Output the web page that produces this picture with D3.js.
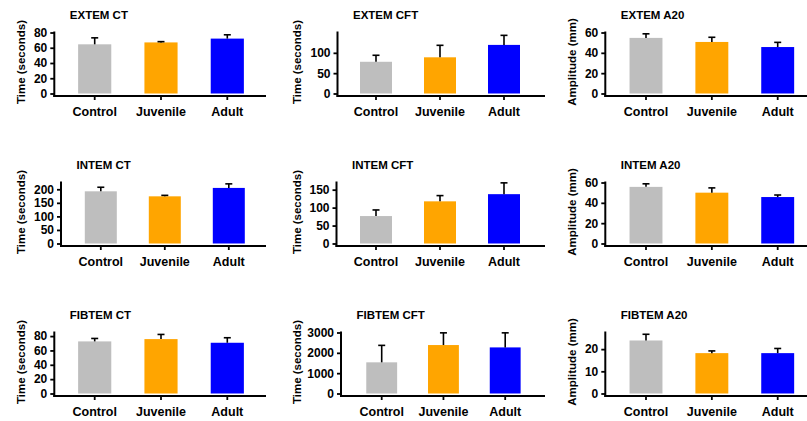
<!DOCTYPE html>
<html>
<head>
<meta charset="utf-8">
<script src="https://cdn.jsdelivr.net/npm/d3@7"></script>
<style>
  html, body { margin: 0; padding: 0; background: #fff; }
  svg { display: block; }
  text { font-family: "Liberation Sans", Arial, sans-serif; font-weight: bold; fill: #000; }
</style>
</head>
<body>
<svg id="chart" width="807" height="421"></svg>
<script>
// Groups compared in every panel
const groups = ["Control", "Juvenile", "Adult"];
const groupColors = ["#bebebe", "#ffa500", "#0000ff"];

// Panels, row by row: EXTEM, INTEM, FIBTEM x CT, CFT, A20
const panelTitles = [
  "EXTEM CT", "EXTEM CFT", "EXTEM A20",
  "INTEM CT", "INTEM CFT", "INTEM A20",
  "FIBTEM CT", "FIBTEM CFT", "FIBTEM A20"
];
const axisTitles = [
  "Time (seconds)", "Time (seconds)", "Amplitude (mm)",
  "Time (seconds)", "Time (seconds)", "Amplitude (mm)",
  "Time (seconds)", "Time (seconds)", "Amplitude (mm)"
];

// Group means (Control, Juvenile, Adult)
const meanValues = [
  [64.5, 67, 72],   [78, 89, 119.5],     [54.7, 50.7, 45.7],
  [192.5, 174, 205], [76.5, 117.5, 137.5], [55.7, 50, 45.7],
  [72.6, 75.8, 70.7], [1533, 2383, 2267],  [23.9, 18.2, 18.2]
];
// Upper error (SD)
const sdValues = [
  [8.5, 1, 5],     [16, 29.5, 23.5],   [4, 4.6, 4.6],
  [15, 3.6, 15],   [17, 16, 31.5],     [3, 4.7, 2],
  [4.1, 6.5, 7],   [834, 600, 716],    [2.8, 1, 2.1]
];
// Y axis tick labels and axis maximum
const yTickValues = [
  [0, 20, 40, 60, 80], [0, 50, 100],      [0, 20, 40, 60],
  [0, 50, 100, 150, 200], [0, 50, 100, 150], [0, 20, 40, 60],
  [0, 20, 40, 60, 80], [0, 1000, 2000, 3000], [0, 10, 20]
];
const yAxisMax = [80, 150, 60, 225, 170, 60, 85, 3000, 27.5];

// Layout of each panel: y-axis position, centres of first/last bar, end of x axis
const panelLayout = [
  { axisX: 54.3, c0: 94.7,  c2: 227.3, xEnd: 266 },
  { axisX: 337.5, c0: 376,  c2: 504,   xEnd: 545 },
  { axisX: 605.3, c0: 646,  c2: 777.7, xEnd: 812 },
  { axisX: 61,   c0: 100.8, c2: 228.8, xEnd: 266 },
  { axisX: 336.5, c0: 376,  c2: 504,   xEnd: 545 },
  { axisX: 605.3, c0: 646,  c2: 777.7, xEnd: 812 },
  { axisX: 54.3, c0: 94.7,  c2: 227.3, xEnd: 266 },
  { axisX: 341,  c0: 381.7, c2: 505.2, xEnd: 545 },
  { axisX: 605.3, c0: 646,  c2: 777.7, xEnd: 812 }
];
const axisTitleX = [21, 297, 572];
const rowTop = [0, 150, 300];

const svg = d3.select("#chart");

panelTitles.forEach((title, i) => {
  const row = Math.floor(i / 3), col = i % 3;
  const L = panelLayout[i];
  const top = rowTop[row];
  const zeroY = top + 93.5, maxY = top + 32.5, xAxisY = top + 96;

  const step = (L.c2 - L.c0) / 2;
  const x = d3.scaleBand()
    .domain(groups)
    .range([L.c0 - step / 2, L.c2 + step / 2])
    .paddingInner(0.5)
    .paddingOuter(0.25);
  const y = d3.scaleLinear().domain([0, yAxisMax[i]]).range([zeroY, maxY]);

  const g = svg.append("g");

  // bars
  g.selectAll("rect.bar")
    .data(groups)
    .join("rect")
    .attr("class", "bar")
    .attr("x", d => x(d))
    .attr("width", x.bandwidth())
    .attr("y", (d, k) => y(meanValues[i][k]))
    .attr("height", (d, k) => y(0) - y(meanValues[i][k]))
    .attr("fill", (d, k) => groupColors[k]);

  // error bars (upper only)
  const eb = g.selectAll("g.err").data(groups).join("g").attr("class", "err");
  eb.append("line")
    .attr("x1", d => x(d) + x.bandwidth() / 2)
    .attr("x2", d => x(d) + x.bandwidth() / 2)
    .attr("y1", (d, k) => y(meanValues[i][k]))
    .attr("y2", (d, k) => y(meanValues[i][k] + sdValues[i][k]))
    .attr("stroke", "#000").attr("stroke-width", 1.6);
  eb.append("line")
    .attr("x1", d => x(d) + x.bandwidth() / 2 - 3.5)
    .attr("x2", d => x(d) + x.bandwidth() / 2 + 3.5)
    .attr("y1", (d, k) => y(meanValues[i][k] + sdValues[i][k]))
    .attr("y2", (d, k) => y(meanValues[i][k] + sdValues[i][k]))
    .attr("stroke", "#000").attr("stroke-width", 1.6);

  // y axis
  const yAxis = g.append("g")
    .attr("transform", `translate(${L.axisX},0)`)
    .call(d3.axisLeft(y).tickValues(yTickValues[i]).tickSize(4).tickPadding(3).tickFormat(d3.format("d")));
  yAxis.select(".domain").remove();
  yAxis.selectAll(".tick line").attr("stroke", "#000").attr("stroke-width", 1.8);
  yAxis.selectAll(".tick text").attr("font-size", 12).style("font-family", "'Liberation Sans', Arial, sans-serif").style("font-weight", "bold");
  g.append("line")
    .attr("x1", L.axisX).attr("x2", L.axisX)
    .attr("y1", maxY - 1).attr("y2", xAxisY + 1)
    .attr("stroke", "#000").attr("stroke-width", 2);

  // x axis
  const xAxis = g.append("g")
    .attr("transform", `translate(0,${xAxisY})`)
    .call(d3.axisBottom(x).tickSize(4).tickPadding(7));
  xAxis.select(".domain").remove();
  xAxis.selectAll(".tick line").attr("stroke", "#000").attr("stroke-width", 1.8);
  xAxis.selectAll(".tick text").attr("font-size", 12.5).style("font-family", "'Liberation Sans', Arial, sans-serif").style("font-weight", "bold");
  g.append("line")
    .attr("x1", L.axisX - 1).attr("x2", L.xEnd)
    .attr("y1", xAxisY).attr("y2", xAxisY)
    .attr("stroke", "#000").attr("stroke-width", 2);

  // panel title
  g.append("text")
    .attr("x", L.axisX + 15.5)
    .attr("y", top + 19)
    .attr("font-size", 11.5)
    .text(title);

  // y axis title
  g.append("text")
    .attr("transform", `translate(${axisTitleX[col]},${top + 62}) rotate(-90)`)
    .attr("text-anchor", "middle")
    .attr("dy", "0.35em")
    .attr("font-size", 11.5)
    .text(axisTitles[i]);
});
</script>
</body>
</html>
